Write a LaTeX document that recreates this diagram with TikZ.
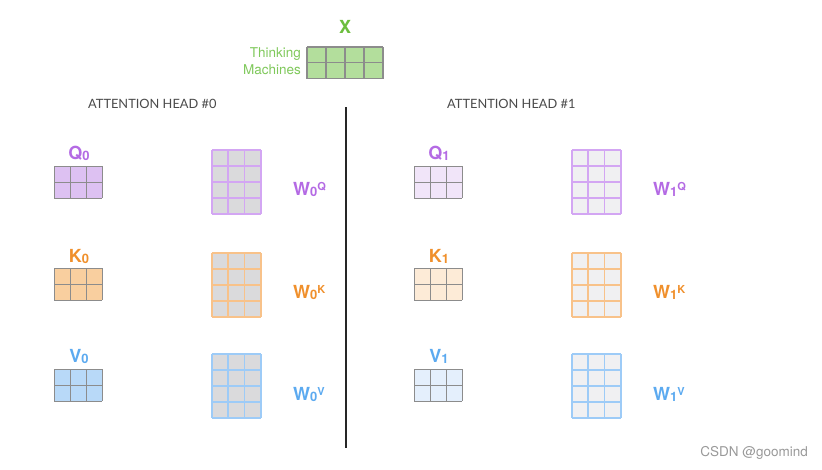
\documentclass[tikz,border=0pt]{standalone}
\usepackage{fontspec}
\setmainfont{TeX Gyre Heros}
\newfontfamily\headfont{Lato}
\definecolor{cpurple}{HTML}{B46AE4}
\definecolor{corange}{HTML}{F0902C}
\definecolor{cblue}{HTML}{5CAAF0}
\definecolor{cgreen}{HTML}{6CBE3E}
\definecolor{tgreen}{HTML}{80C95C}
\definecolor{qfillA}{HTML}{DDC1F2}
\definecolor{qfillB}{HTML}{F1E5F9}
\definecolor{kfillA}{HTML}{F9CF9F}
\definecolor{kfillB}{HTML}{FDEBD7}
\definecolor{vfillA}{HTML}{B8D9F8}
\definecolor{vfillB}{HTML}{E4EFFC}
\definecolor{xfill}{HTML}{B3DE9C}
\definecolor{wfillA}{HTML}{DADADC}
\definecolor{wfillB}{HTML}{F0F0F2}
\definecolor{wpurple}{HTML}{D3A6F3}
\definecolor{worange}{HTML}{F8C28A}
\definecolor{wblue}{HTML}{9DCBF7}
\definecolor{gridgray}{HTML}{8C8C8C}
\definecolor{headgray}{HTML}{4A4A4A}
\newcommand{\cellgrid}[8]{%
  \fill[#7] (#1,#2) rectangle ++(#3*#5,#4*#6);
  \foreach \ii in {0,...,#3} \draw[#8] ({#1+\ii*#5},#2) -- ++(0,{#4*#6});
  \foreach \jj in {0,...,#4} \draw[#8] (#1,{#2+\jj*#6}) -- ++({#3*#5},0);
}
\newcommand{\lblsub}[2]{#1{\fontsize{13}{13}\selectfont\raisebox{-1pt}{#2}}}
\newcommand{\lblw}[2]{W{\fontsize{13}{13}\selectfont\raisebox{-1pt}{#1}\raisebox{4.8pt}{\fontsize{11}{11}\selectfont #2}}}
\tikzset{
  biglbl/.style={font=\fontsize{18}{18}\selectfont\bfseries, inner sep=0pt, anchor=base},
  wlbl/.style={font=\fontsize{18}{18}\selectfont\bfseries, inner sep=0pt, anchor=base west},
  headlbl/.style={font=\headfont\fontsize{12.8}{12.8}\selectfont, text=headgray, inner sep=0pt, anchor=base west},
  smallgrid/.style={draw=gridgray, line width=1pt},
}
\begin{document}
\begin{tikzpicture}[x=1pt,y=-1pt]
\useasboundingbox[fill=white] (0,0) rectangle (822,469);
% X
\node[biglbl, text=cgreen] (xl) at (345,33) {X};
\cellgrid{307}{47}{4}{2}{19}{15.75}{xfill}{draw=gridgray, line width=1.1pt}
\node[inner sep=0pt, anchor=base east, text=tgreen, font=\fontsize{13.5}{13.5}\selectfont] (t1) at (301,57) {Thinking};
\node[inner sep=0pt, anchor=base east, text=tgreen, font=\fontsize{13.5}{13.5}\selectfont] (t2) at (301,74) {Machines};
% headers
\node[headlbl] (h0) at (88,108) {ATTENTION HEAD \#0};
\node[headlbl] (h1) at (447,108) {ATTENTION HEAD \#1};
\coordinate (sepT) at (346,107);
\coordinate (sepB) at (346,448);
\draw[line width=1.2pt, black!85] (sepT) -- (sepB);
% head 0
\node[biglbl, text=cpurple] (q0) at (79,159.5) {\lblsub{Q}{0}};
\cellgrid{54}{166}{3}{2}{16}{16}{qfillA}{smallgrid}
\node[biglbl, text=corange] (k0) at (79,262) {\lblsub{K}{0}};
\cellgrid{54}{268}{3}{2}{16}{16}{kfillA}{smallgrid}
\node[biglbl, text=cblue] (v0) at (79,362) {\lblsub{V}{0}};
\cellgrid{54}{369}{3}{2}{16}{16}{vfillA}{smallgrid}
\cellgrid{212}{150}{3}{4}{16.2}{16}{wfillA}{draw=wpurple, line width=1.8pt}
\cellgrid{212}{253}{3}{4}{16.2}{16}{wfillA}{draw=worange, line width=1.8pt}
\cellgrid{212}{354}{3}{4}{16.2}{16}{wfillA}{draw=wblue, line width=1.8pt}
\node[wlbl, text=cpurple] (wq0) at (293,195) {\lblw{0}{Q}};
\node[wlbl, text=corange] (wk0) at (293,298) {\lblw{0}{K}};
\node[wlbl, text=cblue] (wv0) at (293,400) {\lblw{0}{V}};
% head 1
\node[biglbl, text=cpurple] (q1) at (439,159.5) {\lblsub{Q}{1}};
\cellgrid{414}{166}{3}{2}{16}{16}{qfillB}{smallgrid}
\node[biglbl, text=corange] (k1) at (439,262) {\lblsub{K}{1}};
\cellgrid{414}{268}{3}{2}{16}{16}{kfillB}{smallgrid}
\node[biglbl, text=cblue] (v1) at (439,362) {\lblsub{V}{1}};
\cellgrid{414}{369}{3}{2}{16}{16}{vfillB}{smallgrid}
\cellgrid{572}{150}{3}{4}{16.2}{16}{wfillB}{draw=wpurple, line width=1.8pt}
\cellgrid{572}{253}{3}{4}{16.2}{16}{wfillB}{draw=worange, line width=1.8pt}
\cellgrid{572}{354}{3}{4}{16.2}{16}{wfillB}{draw=wblue, line width=1.8pt}
\node[wlbl, text=cpurple] (wq1) at (653,195) {\lblw{1}{Q}};
\node[wlbl, text=corange] (wk1) at (653,298) {\lblw{1}{K}};
\node[wlbl, text=cblue] (wv1) at (653,400) {\lblw{1}{V}};
% watermark
\node[inner sep=0pt, anchor=base east, text=black!40, font=\fontsize{13.5}{13.5}\selectfont] (wm) at (808,456) {CSDN @goomind};
\end{tikzpicture}
\end{document}
